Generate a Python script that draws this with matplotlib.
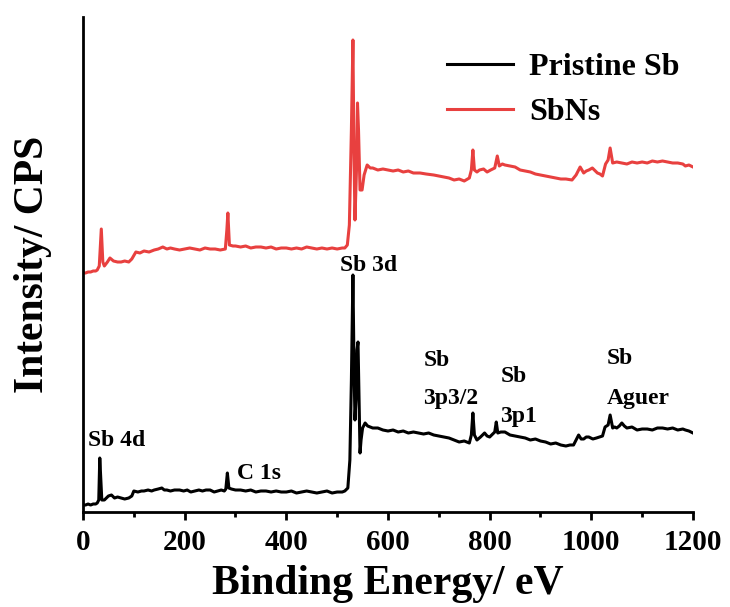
import matplotlib
matplotlib.use('Agg')
from matplotlib import pyplot as plt
from matplotlib.ticker import MultipleLocator

# survey spectra: (binding energy eV, intensity a.u.)
pristine_sb = [
    (0, 7), (5, 7), (10, 8), (15, 7), (20, 8), (25, 8), (28, 9), (31, 12),
    (33, 54), (35, 32), (37, 12), (42, 12), (46, 14), (50, 16), (56, 17),
    (62, 14), (68, 15), (75, 14), (82, 13), (90, 14), (96, 16), (100, 21),
    (108, 20), (115, 21), (120, 21), (128, 22), (135, 21), (140, 22),
    (148, 23), (155, 24), (160, 22), (165, 22), (172, 21), (180, 22),
    (190, 22), (198, 21), (205, 22), (212, 20), (220, 21), (228, 22),
    (235, 21), (242, 22), (250, 22), (258, 20), (265, 21), (272, 22),
    (278, 21), (281, 23), (284, 39), (287, 24), (292, 23), (300, 22),
    (310, 22), (320, 21), (330, 22), (340, 20), (350, 21), (360, 21),
    (370, 20), (380, 21), (390, 20), (400, 20), (410, 21), (420, 19),
    (430, 20), (440, 21), (450, 20), (460, 19), (470, 20), (480, 21),
    (490, 19), (500, 20), (510, 20), (515, 21), (521, 24), (525, 52),
    (528, 132), (531, 237), (533, 152), (535, 92), (537, 112), (539, 162),
    (541, 170), (543, 112), (545, 59), (547, 72), (550, 84), (555, 89),
    (560, 86), (565, 85), (570, 84), (580, 84), (590, 82), (600, 81),
    (610, 82), (620, 80), (630, 81), (640, 79), (650, 80), (660, 79),
    (670, 78), (680, 79), (690, 77), (700, 76), (710, 75), (720, 74),
    (730, 72), (740, 70), (750, 71), (760, 69), (764, 77), (767, 99),
    (770, 77), (775, 72), (782, 75), (790, 79), (795, 76), (800, 75),
    (806, 78), (810, 80), (813, 90), (816, 79), (822, 80), (830, 80),
    (840, 77), (850, 76), (860, 75), (870, 74), (880, 72), (890, 73),
    (900, 71), (910, 70), (920, 68), (930, 69), (940, 67), (950, 66),
    (958, 67), (965, 67), (970, 72), (975, 77), (980, 73), (985, 73),
    (990, 75), (995, 75), (1003, 73), (1010, 74), (1016, 75), (1022, 76),
    (1027, 85), (1033, 87), (1037, 97), (1042, 84), (1046, 85), (1050, 84),
    (1055, 86), (1060, 89), (1065, 86), (1070, 84), (1080, 85), (1090, 82),
    (1100, 83), (1110, 83), (1120, 82), (1130, 84), (1140, 84), (1150, 83),
    (1160, 84), (1170, 82), (1180, 83), (1185, 82), (1192, 81), (1200, 79),
]

sbns = [
    (0, 239), (5, 239), (10, 240), (15, 240), (20, 241), (25, 241), (28, 242),
    (32, 246), (36, 283), (39, 250), (42, 246), (48, 250), (53, 254),
    (60, 251), (68, 250), (75, 250), (82, 251), (90, 250), (96, 253),
    (104, 260), (112, 259), (120, 261), (130, 260), (140, 262), (148, 263),
    (157, 265), (165, 263), (172, 264), (180, 263), (190, 262), (200, 263),
    (210, 264), (220, 263), (230, 262), (240, 264), (250, 263), (260, 263),
    (270, 262), (280, 263), (283, 282), (285, 299), (288, 267), (295, 266),
    (300, 266), (310, 265), (320, 266), (330, 264), (340, 265), (350, 265),
    (360, 264), (370, 265), (380, 263), (390, 264), (400, 264), (410, 263),
    (420, 264), (430, 263), (440, 265), (450, 264), (460, 263), (470, 264),
    (480, 263), (490, 264), (500, 263), (510, 264), (515, 264), (520, 267),
    (524, 287), (528, 382), (531, 472), (533, 362), (535, 292), (538, 342),
    (540, 409), (542, 382), (545, 322), (549, 322), (553, 337), (559, 347),
    (565, 344), (570, 344), (580, 342), (590, 343), (600, 342), (610, 341),
    (620, 342), (630, 340), (640, 341), (650, 339), (663, 339), (675, 338),
    (690, 337), (700, 336), (710, 335), (720, 334), (730, 332), (740, 333),
    (750, 331), (760, 334), (764, 342), (767, 362), (770, 342), (775, 340),
    (780, 342), (788, 343), (795, 340), (802, 342), (810, 344), (815, 356),
    (819, 346), (825, 348), (830, 347), (840, 346), (850, 345), (860, 342),
    (870, 341), (880, 340), (890, 338), (900, 337), (910, 336), (920, 335),
    (930, 334), (940, 333), (950, 333), (962, 332), (970, 337), (978, 345),
    (985, 339), (990, 341), (995, 342), (1002, 344), (1008, 341), (1012, 339),
    (1017, 338), (1022, 336), (1028, 348), (1033, 352), (1037, 364),
    (1042, 349), (1050, 350), (1060, 349), (1070, 348), (1080, 350),
    (1090, 349), (1100, 350), (1110, 349), (1120, 351), (1130, 350),
    (1140, 351), (1150, 350), (1160, 349), (1170, 349), (1180, 348),
    (1185, 346), (1192, 347), (1200, 345),
]

series_names = ['Pristine Sb', 'SbNs']
series_colors = ['black', '#e8403f']

x_ticks = [0, 200, 400, 600, 800, 1000, 1200]

# peak labels: (text, eV, intensity)
peak_labels = [
    ('Sb 4d', 10, 72),
    ('C 1s', 303, 39),
    ('Sb 3d', 506, 247),
    ('Sb', 671, 152),
    ('3p3/2', 669, 114),
    ('Sb', 821, 136),
    ('3p1', 821, 96),
    ('Sb', 1030, 154),
    ('Aguer', 1030, 114),
]

plt.rcParams['font.family'] = ['Liberation Serif', 'DejaVu Serif']
plt.rcParams['font.weight'] = 'bold'

fig = plt.figure(figsize=(7.3, 6.07), dpi=100)
ax = fig.add_axes([0.1137, 0.1565, 0.8356, 0.8155])

for spectrum, name, color in zip([pristine_sb, sbns], series_names, series_colors):
    ev, cps = zip(*spectrum)
    ax.plot(ev, cps, color=color, linewidth=2.2, label=name)

for text, ev, cps in peak_labels:
    ax.text(ev, cps, text, fontsize=17, fontweight='bold', ha='left', va='center')

ax.set_xlim(0, 1200)
ax.set_ylim(0, 495)
ax.set_xticks(x_ticks)
ax.xaxis.set_minor_locator(MultipleLocator(100))
ax.set_yticks([])

for side in ['top', 'right']:
    ax.spines[side].set_visible(False)
for side in ['left', 'bottom']:
    ax.spines[side].set_linewidth(2.0)

ax.tick_params(axis='x', which='major', direction='out', length=6, width=2,
               labelsize=21, pad=6)
ax.tick_params(axis='x', which='minor', direction='out', length=3.5, width=2)

ax.set_xlabel('Binding Energy/ eV', fontsize=30, fontweight='bold', labelpad=7)
ax.set_ylabel('Intensity/ CPS', fontsize=30, fontweight='bold', labelpad=22)

ax.legend(loc='center left', bbox_to_anchor=(0.612, 0.852),
          bbox_transform=fig.transFigure, frameon=False, fontsize=23,
          handlelength=2.06, handletextpad=0.53, labelspacing=0.48,
          borderpad=0, borderaxespad=0)

plt.savefig('out.png', dpi=100)
